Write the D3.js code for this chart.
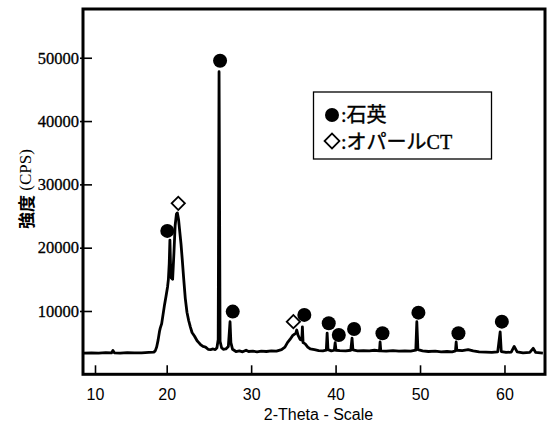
<!DOCTYPE html>
<html>
<head>
<meta charset="utf-8">
<script src="https://cdn.jsdelivr.net/npm/d3@7"></script>
<style>
  html, body { margin: 0; padding: 0; background: #fff; }
  svg { display: block; }
</style>
</head>
<body>
<div id="chart"></div>
<script>
// XRD trace (2-theta, counts)
const twoTheta = [8.4, 9.5, 10.5, 11.5, 12.3, 12.5, 12.7, 13.5, 14.5, 15.5, 16.5, 17.5, 18.2,
  18.4, 18.6, 18.8, 19.0, 19.1, 19.3, 19.5, 19.7, 19.9, 20.1, 20.2, 20.3, 20.38, 20.45, 20.55, 20.7,
  20.85, 21.0, 21.15, 21.26, 21.4, 21.55, 21.7, 21.85, 22.0, 22.2, 22.4, 22.6, 22.8, 23.0, 23.3,
  23.6, 23.8, 24.0, 24.3, 24.6, 24.9, 25.2, 25.5, 25.75, 25.95, 26.1, 26.2, 26.32, 26.5, 26.7,
  27.0, 27.3, 27.5, 27.6, 27.8, 28.2, 28.6, 29.0, 29.4, 29.7, 30.2, 30.7, 31.2, 31.8, 32.4, 33.0,
  33.6, 34.0, 34.3, 34.6, 34.9, 35.1, 35.3, 35.4, 35.55, 35.8, 36.0, 36.07, 36.15, 36.4, 36.7,
  37.0, 37.5, 38.0, 38.5, 38.9, 39.0, 39.1, 39.5, 39.85, 39.95, 40.05, 40.5, 41.2, 41.8, 41.95,
  42.05, 42.6, 43.3, 44.0, 44.6, 45.2, 45.27, 45.35, 46.0, 46.8, 47.5, 48.2, 48.9, 49.5, 49.62,
  49.75, 50.3, 51.0, 51.8, 52.5, 53.2, 53.8, 54.2, 54.28, 54.36, 55.0, 55.7, 56.3, 57.0, 57.8,
  58.5, 59.2, 59.49, 59.62, 60.2, 60.8, 61.15, 61.5, 62.2, 63.0, 63.4, 63.7, 64.55];
const counts = [3350, 3400, 3330, 3420, 3380, 3750, 3400, 3350, 3420, 3370, 3400, 3450, 3500,
  3700, 4300, 5400, 6800, 7300, 8000, 9500, 11000, 12300, 13800, 15000, 17500, 21200, 17500, 15200, 15000,
  19000, 23500, 25300, 25500, 24500, 22500, 20500, 18000, 15300, 12000, 9800, 8500, 7500, 6600, 6000,
  5300, 5000, 4700, 4400, 4300, 3950, 3900, 4000, 3900, 4200, 5500, 47800, 5200, 4200, 3950,
  4000, 4400, 8300, 5000, 3950, 3600, 3700, 3550, 3800, 3600, 3650, 3550, 3650, 3600, 3700, 3650,
  3900, 4300, 5000, 5500, 6100, 6300, 6500, 7000, 6200, 5500, 5400, 7500, 5000, 4800, 4300,
  4000, 3900, 3750, 3700, 3800, 6500, 3900, 3700, 3800, 5000, 3800, 3750, 3700, 3800, 5700,
  3850, 3700, 3750, 3700, 3800, 3700, 5100, 3700, 3650, 3750, 3650, 3700, 3650, 3800, 8300,
  3900, 3700, 3600, 3650, 3550, 3600, 3550, 3700, 5100, 3800, 3750, 3900, 3700, 3550, 3500,
  3450, 3550, 6700, 3600, 3450, 3500, 4400, 3550, 3400, 3450, 4100, 3450, 3350];

// peak markers
const quartzX = [20.07, 26.32, 27.82, 36.30, 39.19, 40.38, 42.19, 45.55, 49.81, 54.55, 59.69];
const quartzY = [22650, 49530, 9900, 9380, 8060, 6210, 7160, 6480, 9740, 6480, 8320];
const opalX = [21.37, 35.0];
const opalY = [27000, 8320];

const xTicks = [10, 20, 30, 40, 50, 60];
const yTicks = [10000, 20000, 30000, 40000, 50000];
const xLabel = '2-Theta - Scale';

const W = 547, H = 425;
const plotL = 83, plotR = 545, plotT = 9, plotB = 374.3;

const svg = d3.select('#chart').append('svg')
  .attr('width', W).attr('height', H);

// the original's "10" tick sits off the linear spacing of the others
const x = d3.scaleLinear()
  .domain([8.3, 10, 20, 64.8])
  .range([plotL, 95, 166.7, plotR]);
const y = d3.scaleLinear()
  .domain([0, 57700])
  .range([plotB, plotT]);

const xAxis = svg.append('g')
  .attr('transform', `translate(0,${plotB})`)
  .call(d3.axisBottom(x).tickValues(xTicks).tickSizeInner(-9).tickSizeOuter(0).tickPadding(14).tickFormat(d3.format('d')));
xAxis.select('.domain').remove();
xAxis.selectAll('line').attr('stroke', '#000').attr('stroke-width', 1.6);
xAxis.selectAll('text')
  .attr('font-family', '"Liberation Sans", Arial, sans-serif')
  .attr('font-size', 16).attr('fill', '#000');

const yAxis = svg.append('g')
  .attr('transform', `translate(${plotL},0)`)
  .call(d3.axisLeft(y).tickValues(yTicks).tickSizeInner(-9).tickSizeOuter(0).tickPadding(4).tickFormat(d3.format('d')));
yAxis.select('.domain').remove();
yAxis.selectAll('line').attr('stroke', '#000').attr('stroke-width', 1.6)
  .attr('x1', -3);
yAxis.selectAll('text')
  .attr('font-family', '"Liberation Serif", "Times New Roman", serif')
  .attr('font-size', 16.5).attr('fill', '#000')
  .attr('stroke', '#000').attr('stroke-width', 0.3);

// trace
const pts = twoTheta.map((t, i) => [t, counts[i]]);
svg.append('path')
  .datum(pts)
  .attr('fill', 'none')
  .attr('stroke', '#000')
  .attr('stroke-width', 2.8)
  .attr('stroke-linejoin', 'round')
  .attr('d', d3.line().x(d => x(d[0])).y(d => y(d[1])));

// frame
svg.append('rect')
  .attr('x', plotL).attr('y', plotT)
  .attr('width', plotR - plotL).attr('height', plotB - plotT)
  .attr('fill', 'none').attr('stroke', '#000').attr('stroke-width', 3);

// markers
const circleSym = d3.symbol().type(d3.symbolCircle).size(Math.PI * 49);
const diamondSym = d3.symbol().type(d3.symbolSquare).size(88);
svg.append('g').selectAll('path')
  .data(quartzX.map((v, i) => [v, quartzY[i]]))
  .enter().append('path')
  .attr('d', circleSym)
  .attr('transform', d => `translate(${x(d[0])},${y(d[1])})`)
  .attr('fill', '#000');
svg.append('g').selectAll('path')
  .data(opalX.map((v, i) => [v, opalY[i]]))
  .enter().append('path')
  .attr('d', diamondSym)
  .attr('transform', d => `translate(${x(d[0])},${y(d[1])}) rotate(45)`)
  .attr('fill', '#fff').attr('stroke', '#000').attr('stroke-width', 1.8);

// legend
const lg = svg.append('g');
lg.append('rect')
  .attr('x', 313.5).attr('y', 92).attr('width', 178).attr('height', 67)
  .attr('fill', '#fff').attr('stroke', '#000').attr('stroke-width', 1.3);
lg.append('path').attr('d', circleSym)
  .attr('transform', 'translate(332,115)').attr('fill', '#000');
lg.append('path').attr('d', d3.symbol().type(d3.symbolSquare).size(110))
  .attr('transform', 'translate(332,141) rotate(45)')
  .attr('fill', '#fff').attr('stroke', '#000').attr('stroke-width', 1.8);
const cjk = '"Noto Sans CJK JP", sans-serif';
const serif = '"Liberation Serif", "Times New Roman", serif';
const t1 = lg.append('text').attr('x', 341).attr('y', 122).attr('font-size', 20).attr('fill', '#000')
  .attr('stroke', '#000').attr('stroke-width', 0.4);
t1.append('tspan').attr('font-family', serif).text(':');
t1.append('tspan').attr('font-family', cjk).text('石英');
const t2 = lg.append('text').attr('x', 341).attr('y', 149).attr('font-size', 20).attr('fill', '#000')
  .attr('stroke', '#000').attr('stroke-width', 0.4);
t2.append('tspan').attr('font-family', serif).text(':');
t2.append('tspan').attr('font-family', cjk).text('オパール');
t2.append('tspan').attr('font-family', serif).text('CT');

// axis titles
svg.append('text')
  .attr('x', (plotL + plotR) / 2 + 4.5).attr('y', 420)
  .attr('text-anchor', 'middle')
  .attr('font-family', '"Liberation Sans", Arial, sans-serif')
  .attr('font-size', 16).attr('fill', '#000')
  .text(xLabel);
const yl = svg.append('text')
  .attr('transform', 'translate(24.5,189) rotate(-90)')
  .attr('text-anchor', 'middle')
  .attr('dominant-baseline', 'central')
  .attr('font-size', 17).attr('fill', '#000');
yl.append('tspan').attr('font-family', cjk).attr('font-weight', 'bold').text('強度');
yl.append('tspan').attr('font-family', serif).text(' (CPS)');
</script>
</body>
</html>
